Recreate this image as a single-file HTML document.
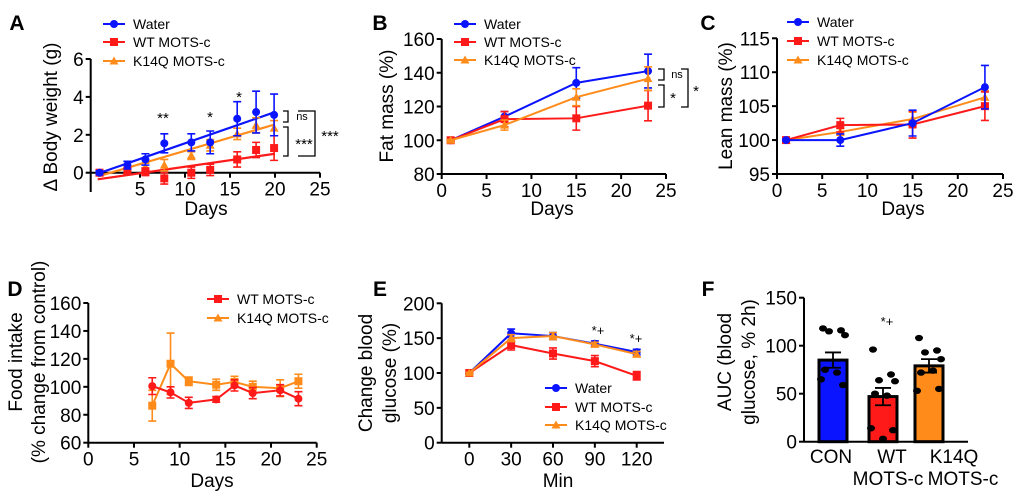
<!DOCTYPE html>
<html><head><meta charset="utf-8">
<style>
html,body{margin:0;padding:0;background:#fff;}
svg{display:block;font-family:"Liberation Sans",Arial,sans-serif;}
</style></head>
<body>
<svg id="fig" width="1020" height="498" viewBox="0 0 1020 498"></svg>
<script>
// ===== Panel A: body weight =====
const aDays = [0.5, 3.6, 5.6, 7.7, 10.7, 12.8, 15.8, 17.9, 19.9];
const aWater = [0, 0.4, 0.7, 1.55, 1.6, 1.6, 2.85, 3.2, 3.05];
const aWaterErr = [0.1, 0.2, 0.3, 0.5, 0.45, 0.6, 0.9, 1.1, 1.1];
const aWT = [0, 0.1, 0.05, -0.3, 0, 0.15, 0.7, 1.2, 1.3];
const aWTErr = [0.1, 0.15, 0.2, 0.3, 0.3, 0.3, 0.4, 0.4, 0.65];
const aK = [0, 0.1, 0.3, 0.4, 0.9, 1.45, 2.05, 2.5, 2.35];
const aKErr = [0.1, 0.15, 0.2, 0.3, 0.2, 0.3, 0.3, 0.4, 0.4];
const aFitWater = [-0.05, 3.2];
const aFitWT = [-0.35, 1.0];
const aFitK = [-0.2, 2.55];
const aFitDays = [0.3, 20];
const aYTicks = [0, 2, 4, 6];
const aXTicks = [5, 10, 15, 20, 25];
// ===== Panel B: fat mass =====
const bDays = [1, 7, 15, 23];
const bWater = [100, 114, 134, 141];
const bWaterErr = [0.5, 3, 9, 10];
const bWT = [100, 112.5, 113, 120.5];
const bWTErr = [0.5, 4.5, 7, 9];
const bK = [100, 109, 125.5, 136.5];
const bKErr = [0.5, 3, 5, 7];
const bYTicks = [80, 100, 120, 140, 160];
const bXTicks = [0, 5, 10, 15, 20, 25];
// ===== Panel C: lean mass =====
const cDays = [1, 7, 15, 23];
const cWater = [100, 100, 102.5, 107.8];
const cWaterErr = [0.1, 0.9, 1.9, 3.2];
const cWT = [100, 102.2, 102.3, 105];
const cWTErr = [0.1, 1, 2, 2.1];
const cK = [100, 101.2, 103.1, 106.3];
const cKErr = [0.1, 0.5, 1, 1];
const cYTicks = [95, 100, 105, 110, 115];
const cXTicks = [0, 5, 10, 15, 20, 25];
// ===== Panel D: food intake =====
const dDays = [7, 9, 11, 14, 16, 18, 21, 23];
const dWT = [100.5, 96, 88.5, 91, 101, 95.5, 97.5, 91.5];
const dWTErr = [6, 4, 4, 2, 4, 4, 4, 5];
const dK = [86.5, 116.5, 104, 101.5, 103.5, 100, 99, 104];
const dKErr = [11, 22, 3, 4, 4, 4, 6, 5];
const dYTicks = [60, 80, 100, 120, 140, 160];
const dXTicks = [0, 5, 10, 15, 20, 25];
// ===== Panel E: glucose =====
const eMin = [0, 30, 60, 90, 120];
const eWater = [100, 157, 153, 142, 130];
const eWaterErr = [1, 6, 5, 4, 4];
const eWT = [100, 140, 128, 117, 96];
const eWTErr = [1, 7, 8, 8, 6];
const eK = [100, 150, 153, 141, 127];
const eKErr = [1, 5, 5, 3, 4];
const eYTicks = [0, 50, 100, 150, 200];
const eXTicks = [0, 30, 60, 90, 120];
// ===== Panel F: AUC =====
const fCats = ["CON", "WT MOTS-c", "K14Q MOTS-c"];
const fMeans = [85, 47, 79];
const fSem = [8, 9, 7];
const fDotsCON = [118, 116, 115, 111, 75, 72, 65, 59];
const fDotsWT = [96, 70, 64, 63, 50, 48, 14, 12, 3];
const fDotsK = [108, 95, 93, 86, 72, 74, 53, 55];
const fYTicks = [0, 50, 100, 150];

const BLUE = "#0a14ff", RED = "#ff1a1a", ORANGE = "#ff8c1a";
const NS = "http://www.w3.org/2000/svg";
const svg = document.getElementById("fig");
const TFS = 19, LFS = 19;

function mk(tag, attrs, parent, text) {
  const e = document.createElementNS(NS, tag);
  for (const k in attrs) e.setAttribute(k, attrs[k]);
  if (text !== undefined) e.textContent = text;
  (parent || svg).appendChild(e);
  return e;
}
function lin(d0, d1, p0, p1) { return v => p0 + (v - d0) * (p1 - p0) / (d1 - d0); }

function marker(g, shape, x, y, color) {
  let m;
  if (shape === "circle") m = mk("circle", {cx: x, cy: y, r: 4, fill: color}, g);
  else if (shape === "square") m = mk("rect", {x: x - 4, y: y - 4, width: 8, height: 8, fill: color}, g);
  else m = mk("polygon", {points: `${x},${y - 4.5} ${x - 4.5},${y + 3.5} ${x + 4.5},${y + 3.5}`, fill: color}, g);
  
  
}
function errbar(g, x, yTop, yBot, color) {
  const e = mk("path", {d: `M${x},${yTop}V${yBot}M${x - 4},${yTop}H${x + 4}M${x - 4},${yBot}H${x + 4}`, stroke: color, "stroke-width": 1.6, fill: "none"}, g);
  
  
}
function series(name, xs, ys, errs, sx, sy, color, shape, connect) {
  const g = mk("g", {});
  
  
  if (connect) {
    mk("polyline", {points: xs.map((x, i) => sx(x) + "," + sy(ys[i])).join(" "), fill: "none", stroke: color, "stroke-width": 2}, g);
  }
  xs.forEach((x, i) => {
    errbar(g, sx(x), sy(ys[i] + errs[i]), sy(ys[i] - errs[i]), color);
    marker(g, shape, sx(x), sy(ys[i]), color);
  });
  return g;
}
function axes(name, x0, x1, y0, y1, sx, sy, xt, yt, xAxisY, fs) {
  const g = mk("g", {});
  
  
  mk("line", {x1: x0, y1: y0, x2: x0, y2: y1, stroke: "#000", "stroke-width": 2}, g);
  mk("line", {x1: x0, y1: xAxisY, x2: x1, y2: xAxisY, stroke: "#000", "stroke-width": 2}, g);
  yt.forEach(v => {
    mk("line", {x1: x0 - 5, y1: sy(v), x2: x0, y2: sy(v), stroke: "#000", "stroke-width": 2}, g);
    const t = mk("text", {x: x0 - 7, y: sy(v) + 7, "text-anchor": "end", "font-size": fs}, g, v);
    
    
  });
  if (xt) xt.forEach(v => {
    mk("line", {x1: sx(v), y1: xAxisY, x2: sx(v), y2: xAxisY + 5, stroke: "#000", "stroke-width": 2}, g);
    const t = mk("text", {x: sx(v), y: xAxisY + 23, "text-anchor": "middle", "font-size": fs}, g, v);
    
    
  });
}
function txt(name, x, y, s, attrs) {
  const t = mk("text", Object.assign({x: x, y: y, "font-size": LFS, "text-anchor": "middle"}, attrs || {}), svg, s);
  
  
  return t;
}
function vtitle(name, x, y, s) {
  const t = mk("text", {x: 0, y: 0, "font-size": LFS, "text-anchor": "middle", transform: `translate(${x},${y}) rotate(-90)`}, svg, s);
  
  
}
function legend(name, x, ys, labels, colors, shapes) {
  const g = mk("g", {});
  
  
  labels.forEach((l, i) => {
    const e = mk("g", {}, g);
    
    
    mk("line", {x1: x, y1: ys[i], x2: x + 22, y2: ys[i], stroke: colors[i], "stroke-width": 2}, e);
    marker(e, shapes[i], x + 11, ys[i], colors[i]);
    mk("text", {x: x + 30, y: ys[i] + 5, "font-size": 14}, e, l);
  });
}
function bracket(name, x, w, y0, y1) {
  const p = mk("path", {d: `M${x},${y0}H${x + w}V${y1}H${x}`, fill: "none", stroke: "#000", "stroke-width": 1.3});
  
  
}
const LBL = ["Water", "WT MOTS-c", "K14Q MOTS-c"];

// ---- A ----
{
  const sx = lin(0, 25, 95, 320), sy = lin(0, 6, 172.7, 59);
  axes("panel-a-axes", 90.7, 320, 59, 192, sx, sy, aXTicks, aYTicks, 172.7, TFS);
  [[aFitWater, BLUE, "fit-water"], [aFitWT, RED, "fit-wt"], [aFitK, ORANGE, "fit-k14q"]].forEach(([f, c, n]) => {
    const l = mk("line", {x1: sx(aFitDays[0]), y1: sy(f[0]), x2: sx(aFitDays[1]), y2: sy(f[1]), stroke: c, "stroke-width": 2.2});
    
    
  });
  series("series-k14q", aDays, aK, aKErr, sx, sy, ORANGE, "tri", false);
  series("series-wt", aDays, aWT, aWTErr, sx, sy, RED, "square", false);
  series("series-water", aDays, aWater, aWaterErr, sx, sy, BLUE, "circle", false);
  legend("panel-a-legend", 103, [24, 42, 61], LBL, [BLUE, RED, ORANGE], ["circle", "square", "tri"]);
  txt("panel-a-label", 17, 30, "A", {"font-size": 21, "font-weight": "bold"});
  vtitle("panel-a-y-title", 57, 117, "Δ Body weight (g)");
  txt("panel-a-x-title", 206, 215, "Days");
  txt("sig-day8", 163, 123, "**", {"font-size": 15});
  txt("sig-day13", 210, 122, "*", {"font-size": 15});
  txt("sig-day16", 239, 102, "*", {"font-size": 15});
  bracket("bracket-ns", 283, 5, 111, 122);
  txt("label-ns", 302, 120, "ns", {"font-size": 11});
  bracket("bracket-wt-k14q", 283, 5, 127, 156);
  txt("label-sig-3", 304, 149, "***", {"font-size": 15});
  bracket("bracket-water-wt", 298, 17, 111, 156);
  txt("label-sig-3b", 330, 141, "***", {"font-size": 15});
}
// ---- B ----
{
  const sx = lin(0, 25, 441.7, 666), sy = lin(80, 160, 174, 39);
  axes("panel-b-axes", 441.7, 666, 39, 174, sx, sy, bXTicks, bYTicks, 174, TFS);
  series("series-water", bDays, bWater, bWaterErr, sx, sy, BLUE, "circle", true);
  series("series-wt", bDays, bWT, bWTErr, sx, sy, RED, "square", true);
  series("series-k14q", bDays, bK, bKErr, sx, sy, ORANGE, "tri", true);
  legend("panel-b-legend", 454, [24, 42, 60], LBL, [BLUE, RED, ORANGE], ["circle", "square", "tri"]);
  txt("panel-b-label", 380, 30, "B", {"font-size": 21, "font-weight": "bold"});
  vtitle("panel-b-y-title", 393, 106, "Fat mass (%)");
  txt("panel-b-x-title", 552, 215, "Days");
  bracket("bracket-ns", 658, 6, 69, 80);
  txt("label-ns", 677, 78, "ns", {"font-size": 11});
  bracket("bracket-wt-k14q", 658, 6, 85, 107);
  txt("label-sig", 673, 103, "*", {"font-size": 15});
  bracket("bracket-water-wt", 681, 7, 69, 107);
  txt("label-sig-b", 696, 96, "*", {"font-size": 15});
}
// ---- C ----
{
  const sx = lin(0, 25, 777, 1003), sy = lin(95, 115, 174, 38.3);
  axes("panel-c-axes", 777, 1003, 38.3, 174, sx, sy, cXTicks, cYTicks, 174, TFS);
  series("series-k14q", cDays, cK, cKErr, sx, sy, ORANGE, "tri", true);
  series("series-wt", cDays, cWT, cWTErr, sx, sy, RED, "square", true);
  series("series-water", cDays, cWater, cWaterErr, sx, sy, BLUE, "circle", true);
  legend("panel-c-legend", 787, [22, 41, 60], LBL, [BLUE, RED, ORANGE], ["circle", "square", "tri"]);
  txt("panel-c-label", 708, 30, "C", {"font-size": 21, "font-weight": "bold"});
  vtitle("panel-c-y-title", 732, 106, "Lean mass (%)");
  txt("panel-c-x-title", 903, 215, "Days");
}
// ---- D ----
{
  const sx = lin(0, 25, 88.3, 316.7), sy = lin(60, 160, 442.7, 303);
  axes("panel-d-axes", 88.3, 316.7, 303, 442.7, sx, sy, dXTicks, dYTicks, 442.7, TFS);
  series("series-k14q", dDays, dK, dKErr, sx, sy, ORANGE, "square", true);
  series("series-wt", dDays, dWT, dWTErr, sx, sy, RED, "circle", true);
  legend("panel-d-legend", 207, [299, 318], ["WT MOTS-c", "K14Q MOTS-c"], [RED, ORANGE], ["square", "tri"]);
  txt("panel-d-label", 15, 296, "D", {"font-size": 21, "font-weight": "bold"});
  vtitle("panel-d-y-title-1", 22, 362, "Food intake");
  vtitle("panel-d-y-title-2", 45, 362, "(% change from control)");
  txt("panel-d-x-title", 212, 487, "Days");
}
// ---- E ----
{
  const sx = lin(0, 120, 469.3, 636.7), sy = lin(0, 200, 442.7, 303.3);
  axes("panel-e-axes", 441.7, 664, 303.3, 442.7, sx, sy, eXTicks, eYTicks, 442.7, TFS);
  series("series-water", eMin, eWater, eWaterErr, sx, sy, BLUE, "circle", true);
  series("series-wt", eMin, eWT, eWTErr, sx, sy, RED, "square", true);
  series("series-k14q", eMin, eK, eKErr, sx, sy, ORANGE, "tri", true);
  legend("panel-e-legend", 545, [388, 407, 425], LBL, [BLUE, RED, ORANGE], ["circle", "square", "tri"]);
  txt("panel-e-label", 380, 296, "E", {"font-size": 21, "font-weight": "bold"});
  vtitle("panel-e-y-title-1", 372, 373, "Change blood");
  vtitle("panel-e-y-title-2", 396, 373, "glucose (%)");
  txt("panel-e-x-title", 558, 487, "Min");
  txt("sig-90", 598, 335, "*+", {"font-size": 13});
  txt("sig-120", 636, 343, "*+", {"font-size": 13});
}
// ---- F ----
{
  const sy = lin(0, 150, 441.7, 297.7);
  const cx = [833, 883, 929];
  const colors = [BLUE, RED, ORANGE];
  const dots = [fDotsCON, fDotsWT, fDotsK];
  const jit = [-10, 8, -4, 12, -8, 4, -12, 10, 0];
  axes("panel-f-axes", 804, 968, 297.7, 441.7, null, sy, null, fYTicks, 441.7, TFS);
  fMeans.forEach((m, i) => {
    const b = mk("rect", {x: cx[i] - 14, y: sy(m), width: 28, height: sy(0) - sy(m), fill: colors[i], stroke: "#000", "stroke-width": 3});
    
    
    const e = mk("path", {d: `M${cx[i]},${sy(m + fSem[i])}V${sy(m - fSem[i])}M${cx[i] - 8},${sy(m + fSem[i])}H${cx[i] + 8}M${cx[i] - 8},${sy(m - fSem[i])}H${cx[i] + 8}`, stroke: "#000", "stroke-width": 1.8, fill: "none"});
    
    
    dots[i].forEach((v, j) => {
      const d = mk("ellipse", {cx: cx[i] + jit[j], cy: sy(v), rx: 4, ry: 3.2, fill: "#000"});
      
      
    });
  });
  txt("x-label-con", 831, 463, "CON");
  txt("x-label-wt-1", 892, 463, "WT");
  txt("x-label-wt-2", 888, 485, "MOTS-c");
  txt("x-label-k14q-1", 954, 463, "K14Q");
  txt("x-label-k14q-2", 963, 485, "MOTS-c");
  txt("panel-f-label", 708, 296, "F", {"font-size": 21, "font-weight": "bold"});
  vtitle("panel-f-y-title-1", 731, 362, "AUC (blood");
  vtitle("panel-f-y-title-2", 755, 362, "glucose, % 2h)");
  txt("sig-wt", 887, 326, "*+", {"font-size": 13});
}
</script>
</body></html>
